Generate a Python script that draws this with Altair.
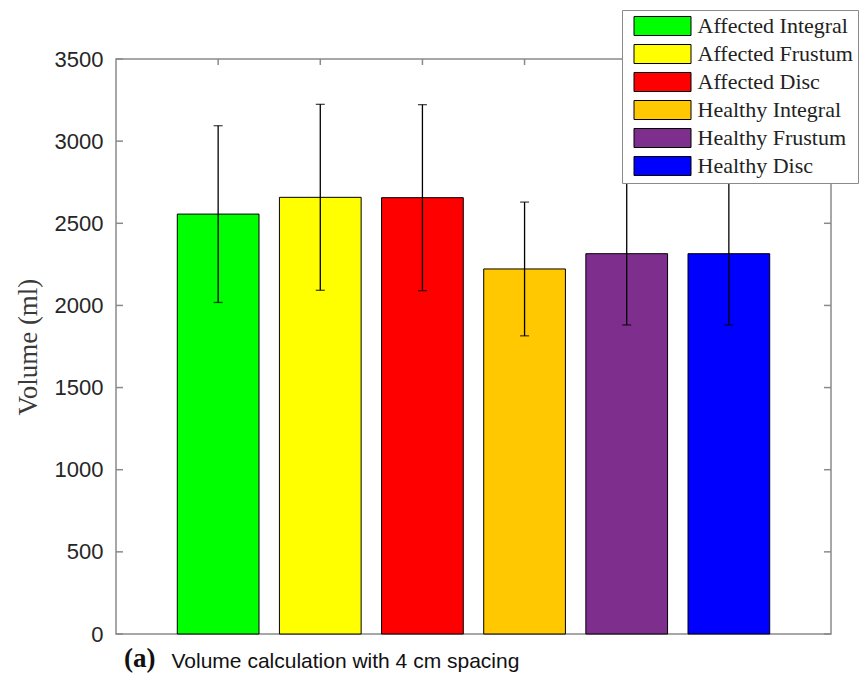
import altair as alt
import pandas as pd

categories = ["Affected Integral", "Affected Frustum", "Affected Disc",
              "Healthy Integral", "Healthy Frustum", "Healthy Disc"]
means = [2556, 2658, 2656, 2222, 2315, 2315]
errors = [538, 566, 566, 407, 434, 434]
colors = ["#00FF00", "#FFFF00", "#FF0000", "#FFC800", "#7E2F8E", "#0000FF"]
y_ticks = [0, 500, 1000, 1500, 2000, 2500, 3000, 3500]

positions = list(range(1, len(categories) + 1))
df = pd.DataFrame({
    "cat": categories,
    "pos": positions,
    "mean": means,
    "err": errors,
})
df["lo"] = df["pos"] - 0.4
df["hi"] = df["pos"] + 0.4
df["low"] = df["mean"] - df["err"]
df["high"] = df["mean"] + df["err"]
ticks_df = pd.DataFrame({"v": y_ticks})

W, H = 715, 575
FRAME = "#8a8a8a"
xs = alt.Scale(domain=[0, 7], nice=False, zero=False)
ys = alt.Scale(domain=[0, 3500], nice=False)

base = alt.Chart(df)

x_axis = alt.Axis(
    title="Volume calculation with 4 cm spacing", labels=False, ticks=False,
    domain=False, grid=False, titleFont="Liberation Sans", titleFontSize=21,
    titleFontWeight="normal", titleColor="#111111", titleAnchor="start",
    titleAlign="left", titleBaseline="alphabetic", titleX=55, titleY=33,
)
y_axis = alt.Axis(
    title="Volume (ml)", values=y_ticks, format="d", ticks=False, domain=False,
    grid=False, labelFont="Liberation Sans", labelFontSize=22,
    labelColor="#262626", labelPadding=13, titleFont="Liberation Serif",
    titleFontSize=27, titleFontWeight="normal", titleColor="#3a3a3a",
    titlePadding=12,
)

bars = base.mark_bar(stroke="black", strokeWidth=1, opacity=1).encode(
    x=alt.X("lo:Q", scale=xs, axis=x_axis),
    x2="hi:Q",
    y=alt.Y("mean:Q", scale=ys, axis=y_axis),
    y2=alt.datum(0),
    color=alt.Color(
        "cat:N",
        scale=alt.Scale(domain=categories, range=colors),
        legend=alt.Legend(
            title=None, orient="none", legendX=506, legendY=-49,
            symbolType="M-3,-1H3V1H-3Z", symbolSize=361,
            symbolStrokeColor="black", symbolStrokeWidth=1,
            symbolOffset=24.5, labelOffset=24,
            labelFont="Liberation Serif", labelFontSize=22,
            labelColor="#222222", labelLimit=0, rowPadding=4, padding=5,
            strokeColor=FRAME, fillColor="white",
        ),
    ),
)

err_rule = base.mark_rule(color="black", strokeWidth=1.3).encode(
    x=alt.X("pos:Q", scale=xs, axis=x_axis),
    y=alt.Y("low:Q", scale=ys, axis=y_axis), y2="high:Q")
cap_hi = base.mark_tick(orient="horizontal", size=9, thickness=1.3, color="black").encode(
    x=alt.X("pos:Q", scale=xs, axis=x_axis), y=alt.Y("high:Q", scale=ys, axis=y_axis))
cap_lo = base.mark_tick(orient="horizontal", size=9, thickness=1.3, color="black").encode(
    x=alt.X("pos:Q", scale=xs, axis=x_axis), y=alt.Y("low:Q", scale=ys, axis=y_axis))

left_ticks = alt.Chart(ticks_df).mark_rule(color=FRAME, strokeWidth=1.5).encode(
    y=alt.Y("v:Q", scale=ys, axis=y_axis), x=alt.value(0), x2=alt.value(7))
right_ticks = alt.Chart(ticks_df).mark_rule(color=FRAME, strokeWidth=1.5).encode(
    y=alt.Y("v:Q", scale=ys, axis=y_axis), x=alt.value(W - 7), x2=alt.value(W))
top_ticks = base.mark_rule(color=FRAME, strokeWidth=1.5).encode(
    x=alt.X("pos:Q", scale=xs, axis=x_axis), y=alt.value(0), y2=alt.value(6))

chart = alt.layer(
    bars, err_rule, cap_hi, cap_lo, left_ticks, right_ticks, top_ticks
).properties(
    width=W, height=H,
    autosize=alt.AutoSizeParams(type="none"),
    padding={"left": 108, "top": 51, "right": 28, "bottom": 45},
    background="white",
    title=alt.TitleParams(
        "(a)", orient="bottom", anchor="start", font="Liberation Serif",
        fontWeight="bold", fontSize=27, color="#111111", dx=110, dy=-25,
        offset=0,
    ),
).configure_view(stroke=FRAME, strokeWidth=1.5)

chart.save("out.html", embed_options={"renderer": "svg", "actions": False})
